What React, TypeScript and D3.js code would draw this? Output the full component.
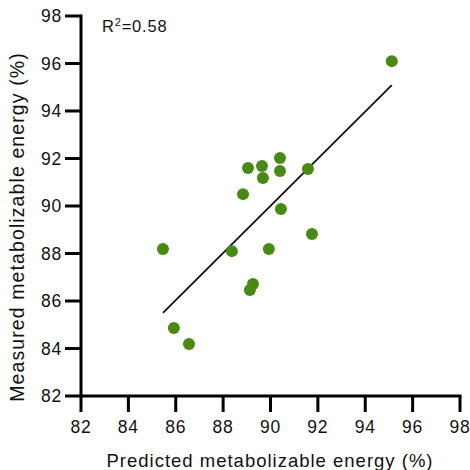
import React from "react";
import * as d3 from "d3";

const predicted = [85.46, 85.92, 86.56, 88.37, 89.93, 89.13, 89.26, 91.75, 95.12, 90.4, 89.05, 89.64, 90.4, 89.68, 91.58, 88.84, 90.44];
const measured = [88.19, 84.86, 84.19, 88.1, 88.19, 86.46, 86.72, 88.82, 96.1, 92.02, 91.6, 91.68, 91.47, 91.18, 91.56, 90.5, 89.87];
const fitX = [85.46, 95.12];
const fitY = [85.5, 95.09];
const ticks = [82, 84, 86, 88, 90, 92, 94, 96, 98];

const W = 470;
const H = 470;
const left = 81;
const right = 460;
const top = 16;
const bottom = 396;
const font = "'Liberation Sans', Arial, Helvetica, sans-serif";

export default function App() {
  const x = d3.scaleLinear().domain([82, 98]).range([left, right]);
  const y = d3.scaleLinear().domain([82, 98]).range([bottom, top]);
  const line = d3.line<number>().x((d, i) => x(fitX[i])).y((d, i) => y(fitY[i]));
  const pts = predicted.map((p, i) => ({ p, m: measured[i] }));
  return (
    <svg width={W} height={H} style={{ position: "absolute", left: 0, top: 0, background: "#fff" }}>
      <rect width={W} height={H} fill="#fff" />
      <line x1={left} x2={left} y1={top - 1.5} y2={bottom + 1.5} stroke="#000" strokeWidth={3} />
      <line x1={left - 1.5} x2={right + 1.5} y1={bottom} y2={bottom} stroke="#000" strokeWidth={3} />
      {ticks.map((t) => (
        <g key={"y" + t}>
          <line x1={left - 16} x2={left} y1={y(t)} y2={y(t)} stroke="#000" strokeWidth={3} />
          <text x={left - 19} y={y(t) + 6} textAnchor="end" fontFamily={font} fontSize={17.5} letterSpacing={0.8} fill="#111">
            {t}
          </text>
        </g>
      ))}
      {ticks.map((t) => (
        <g key={"x" + t}>
          <line x1={x(t)} x2={x(t)} y1={bottom} y2={bottom + 16} stroke="#000" strokeWidth={3} />
          <text x={x(t)} y={bottom + 37} textAnchor="middle" fontFamily={font} fontSize={17.5} letterSpacing={0.8} fill="#111">
            {t}
          </text>
        </g>
      ))}
      <path d={line(fitX) || ""} stroke="#111" strokeWidth={1.8} fill="none" />
      {pts.map((d, i) => (
        <circle key={i} cx={x(d.p)} cy={y(d.m)} r={6} fill="#4a8a14" />
      ))}
      <text x={102} y={32} fontFamily={font} fontSize={16.5} letterSpacing={0.8} fill="#111">
        R<tspan dy={-6} fontSize={11}>2</tspan>
        <tspan dy={6}>=0.58</tspan>
      </text>
      <text x={270} y={467} textAnchor="middle" fontFamily={font} fontSize={18.5} letterSpacing={1} fill="#111">
        Predicted metabolizable energy (%)
      </text>
      <text
        transform={`translate(24, 227) rotate(-90)`}
        textAnchor="middle"
        fontFamily={font}
        fontSize={19.5}
        letterSpacing={1.1}
        fill="#111"
      >
        Measured metabolizable energy (%)
      </text>
    </svg>
  );
}
